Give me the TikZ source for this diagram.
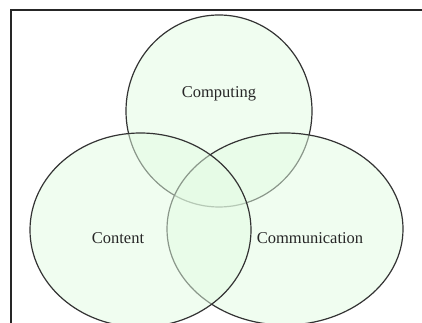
\documentclass[tikz,border=0pt]{standalone}
\usepackage{fontspec}
\setmainfont{Liberation Serif}
\usetikzlibrary{positioning}
\definecolor{setgreen}{RGB}{226,251,226}
\tikzset{
  area/.style    = { draw=black!80, line width=1.2pt, fill=setgreen, fill opacity=0.5 },
  frame/.style   = { line width=1.3pt, black!85 },
  setname/.style = { font=\fontsize{16.5}{20}\selectfont, text=black!85 }
}

\begin{document}
\begin{tikzpicture}[x=1pt,y=1pt]
  \useasboundingbox (0,0) rectangle (422,323);
  \clip (0,0) rectangle (422,323);

  % Draw the frame
  \draw[frame] (11,-5) -- (11,313) -- (430,313);

  % Draw all sets
  \draw[area] (219,212) ellipse [x radius=93, y radius=96];
  \draw[area] (285,94) ellipse [x radius=118, y radius=96];
  \draw[area] (140.5,93) ellipse [x radius=110.5, y radius=97];

  % Draw labels
  \node[setname] (computing) at (219,229) {Computing};
  \node[setname] (content) at (118,85) {Content};
  \node[setname] (communication) at (310,85) {Communication};
\end{tikzpicture}
\end{document}
